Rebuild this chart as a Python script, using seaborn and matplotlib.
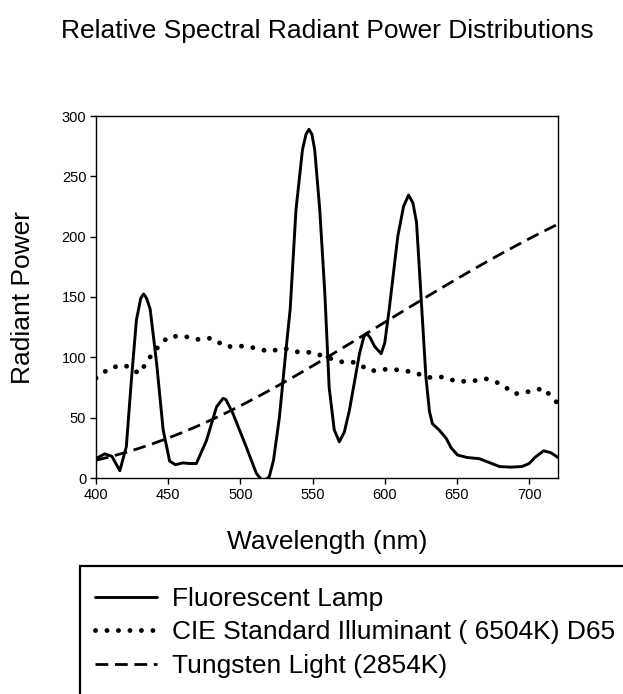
import pandas as pd
import matplotlib
matplotlib.use("Agg")
import matplotlib.pyplot as plt
import seaborn as sns
from matplotlib.patches import Rectangle

# Fluorescent lamp
fl_wl = [400, 406, 411, 416.5, 421, 424.5, 428, 431, 433, 435, 437.5, 442, 446.5, 451, 455,
         460, 465, 469.5, 476.5, 483.5, 488, 490, 495, 504, 511, 515.5, 520, 523, 527, 531.5,
         534.5, 538.5, 543, 545.5, 547.5, 549.5, 551.5, 555, 558.5, 561.5, 565, 568.5, 572,
         575.5, 582.5, 585.5, 587.5, 590, 593, 597.5, 600, 603, 609, 613, 616.5, 619.5, 622,
         625, 628.5, 631, 633, 637.5, 642.5, 646, 650.5, 657, 665.5, 672, 679.5, 687, 695,
         700, 704, 710, 715, 720]
fl_pw = [16, 20, 18, 6, 26, 81, 131, 149, 152.5, 149, 140, 95, 40, 14, 11,
         12.5, 12, 12, 31, 59, 66, 65, 53, 26, 4, -3, 1, 15, 50, 105,
         140, 222, 272, 285, 289, 285, 272, 222, 153, 75, 40, 30, 38,
         56, 103, 117, 120, 116, 109, 103, 112, 139, 200, 225, 234.5, 228, 212,
         153, 84, 55, 45, 40, 33, 25, 19, 17, 16, 13, 9.5, 9, 9.5,
         12, 17, 22.5, 21, 17]

# CIE D65
d65_wl = list(range(400, 721, 10))
d65_pw = [82.75, 91.49, 93.43, 86.68, 104.86, 117.01, 117.81, 114.86, 115.92, 108.81,
          109.35, 107.80, 104.79, 107.69, 104.41, 104.05, 100.00, 96.33, 95.79, 88.69,
          90.01, 89.60, 87.70, 83.29, 83.70, 80.03, 80.21, 82.28, 78.28, 69.72,
          71.61, 74.35, 61.60]

# Tungsten (illuminant A, 2854K)
tu_wl = list(range(400, 721, 10))
tu_pw = [14.71, 17.68, 20.99, 24.67, 28.70, 33.09, 37.81, 42.87, 48.24, 53.91,
         59.86, 66.06, 72.50, 79.13, 85.95, 92.91, 100.00, 107.18, 114.44, 121.73,
         129.04, 136.35, 143.62, 150.84, 157.98, 165.03, 171.96, 178.77, 185.43, 191.93,
         198.26, 204.41, 210.36]

labels = ["Fluorescent Lamp", "CIE Standard Illuminant ( 6504K) D65", "Tungsten Light (2854K)"]

sns.set_style("ticks")
plt.rcParams['font.family'] = ['Liberation Sans', 'DejaVu Sans']
plt.rcParams.update({"text.color": "black", "axes.labelcolor": "black",
                     "xtick.color": "black", "ytick.color": "black"})

fig = plt.figure(figsize=(6.23, 6.94), dpi=100)
ax = fig.add_axes([96/623, 1-478/694, 462/623, 362/694])

df_fl = pd.DataFrame({"wl": fl_wl, "pw": fl_pw})
df_d65 = pd.DataFrame({"wl": d65_wl, "pw": d65_pw})
df_tu = pd.DataFrame({"wl": tu_wl, "pw": tu_pw})

sns.lineplot(data=df_fl, x="wl", y="pw", ax=ax, color="black", lw=2.1,
             label=labels[0], solid_joinstyle="round")
sns.lineplot(data=df_d65, x="wl", y="pw", ax=ax, color="black", lw=3.5,
             linestyle=(0, (0.01, 2.35)), dash_capstyle="round", label=labels[1])
sns.lineplot(data=df_tu, x="wl", y="pw", ax=ax, color="black", lw=2.0,
             linestyle=(0, (4.6, 2.4)), label=labels[2])

ax.set_xlim(400, 720)
ax.set_ylim(0, 300)
ax.set_xticks([400, 450, 500, 550, 600, 650, 700])
ax.set_yticks([0, 50, 100, 150, 200, 250, 300])
ax.tick_params(labelsize=10.5, length=4, width=1, color="black", pad=3)
for s in ax.spines.values():
    s.set_visible(True)
    s.set_color("black")
    s.set_linewidth(1)

ax.set_xlabel("Wavelength (nm)", fontsize=19)
ax.set_ylabel("Radiant Power", fontsize=19)
ax.xaxis.set_label_coords(0.5, -0.145)
ax.yaxis.set_label_coords(-0.132, 0.5)

fig.text(327/623, 1-38/694, "Relative Spectral Radiant Power Distributions",
         ha="center", va="baseline", fontsize=19)

# legend frame running off the page
fig.patches.append(Rectangle((80/623, -0.1), 1.0, 1-566/694+0.1, transform=fig.transFigure,
                             fill=False, edgecolor="black", lw=1.6))
h, l = ax.get_legend_handles_labels()
ax.legend_.remove()
fig.legend(h, l, loc="upper left", bbox_to_anchor=(95/623, 1-587/694), frameon=False,
           fontsize=19, handlelength=2.35, handletextpad=0.55, labelspacing=0.36,
           borderaxespad=0, borderpad=0)

fig.savefig("out.png", dpi=100)
